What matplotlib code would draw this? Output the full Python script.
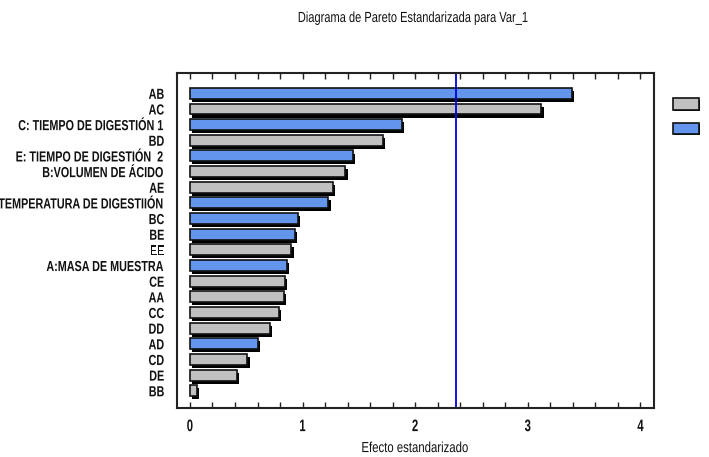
import matplotlib
matplotlib.use("Agg")
import matplotlib.pyplot as plt
import matplotlib.patheffects as pe
from matplotlib.patches import Patch
from matplotlib.transforms import Affine2D
from matplotlib.ticker import MultipleLocator
import numpy as np

# effects, top to bottom as listed on the chart
effects = ["AB", "AC", "C: TIEMPO DE DIGESTIÓN 1", "BD", "E: TIEMPO DE DIGESTIÓN  2",
           "B:VOLUMEN DE ÁCIDO", "AE", "D:TEMPERATURA DE DIGESTIIÓN", "BC", "BE", "EE",
           "A:MASA DE MUESTRA", "CE", "AA", "CC", "DD", "AD", "CD", "DE", "BB"]
std_effect = [3.39, 3.12, 1.88, 1.71, 1.45, 1.38, 1.27, 1.23, 0.96, 0.935, 0.90,
              0.86, 0.84, 0.835, 0.79, 0.71, 0.60, 0.51, 0.42, 0.06]
# sign of each effect: True = positive (gray), False = negative (blue)
positive = [False, True, False, True, False, True, True, False, False, False, True,
            False, True, True, True, True, False, True, True, True]
critical_t = 2.366

pos_colour = "#c0c0c0"
neg_colour = "#6495ed"


class Narrow(pe.AbstractPathEffect):
    """Squeeze a text path horizontally, keeping one side (or the centre) in place."""

    def __init__(self, sx=0.8, anchor="center"):
        super().__init__()
        self.sx = sx
        self.anchor = anchor

    def draw_path(self, renderer, gc, tpath, affine, rgbFace=None):
        xs = affine.transform(tpath.vertices)[:, 0]
        if self.anchor == "right":
            x0 = xs.max()
        elif self.anchor == "left":
            x0 = xs.min()
        else:
            x0 = 0.5 * (xs.min() + xs.max())
        squeeze = affine + Affine2D().translate(-x0, 0).scale(self.sx, 1).translate(x0, 0)
        renderer.draw_path(gc, tpath, squeeze, rgbFace)


plt.rcParams['font.family'] = ['Liberation Sans', 'DejaVu Sans']

fig = plt.figure(figsize=(7.09, 4.57), dpi=100)
ax = fig.add_axes([0.2496, 0.1072, 0.6728, 0.7331])

ypos = np.arange(len(effects))[::-1]
colours = [pos_colour if p else neg_colour for p in positive]
shadow = [pe.SimplePatchShadow(offset=(1.6, -2.2), shadow_rgbFace="black", alpha=1.0), pe.Normal()]
bars = ax.barh(ypos, std_effect, height=0.7, color=colours, edgecolor="#111111", linewidth=1.2)
for b in bars:
    b.set_path_effects(shadow)

ax.axvline(critical_t, color="#0000dd", linewidth=1.3)

ax.set_xlim(-0.115, 4.12)
ax.set_ylim(-1.1, 20.3)
ax.set_yticks(ypos)
ax.set_yticklabels(effects, fontsize=10.5, fontweight="bold", color="#111111")
ax.tick_params(axis="y", length=0, pad=9)
for lbl in ax.get_yticklabels():
    lbl.set_path_effects([Narrow(0.74, "right")])

ax.xaxis.set_major_locator(MultipleLocator(1))
ax.xaxis.set_minor_locator(MultipleLocator(0.2))
ax.tick_params(axis="x", which="both", direction="in", top=True, bottom=True,
               length=4, width=1.0, color="#222222")
ax.tick_params(axis="x", labelsize=12, pad=8)
for lbl in ax.get_xticklabels():
    lbl.set_fontweight("bold")
    lbl.set_color("#111111")
    lbl.set_path_effects([Narrow(0.68, "center")])
for s in ax.spines.values():
    s.set_linewidth(1.5)
    s.set_color("#222222")

xl = ax.set_xlabel("Efecto estandarizado", fontsize=10.5, labelpad=5, color="#111111")
xl.set_path_effects([Narrow(0.78, "center")])
ttl = fig.suptitle("Diagrama de Pareto Estandarizada para Var_1", x=0.584, y=0.976,
                   fontsize=10.5, color="#111111")
ttl.set_path_effects([Narrow(0.76, "center")])

handles = [Patch(facecolor=pos_colour, edgecolor="#111111", linewidth=1.2),
           Patch(facecolor=neg_colour, edgecolor="#111111", linewidth=1.2)]
leg = fig.legend(handles, ["", ""], loc="upper left", bbox_to_anchor=(0.949, 0.786),
                 frameon=False, handlelength=1.85, handleheight=0.85, labelspacing=0.75,
                 handletextpad=0.2, borderaxespad=0, borderpad=0, fontsize=10)
for h in leg.legend_handles:
    h.set_path_effects([pe.SimplePatchShadow(offset=(1.0, -1.0), shadow_rgbFace="black",
                                             alpha=1.0), pe.Normal()])

fig.savefig("out.png", dpi=100)
